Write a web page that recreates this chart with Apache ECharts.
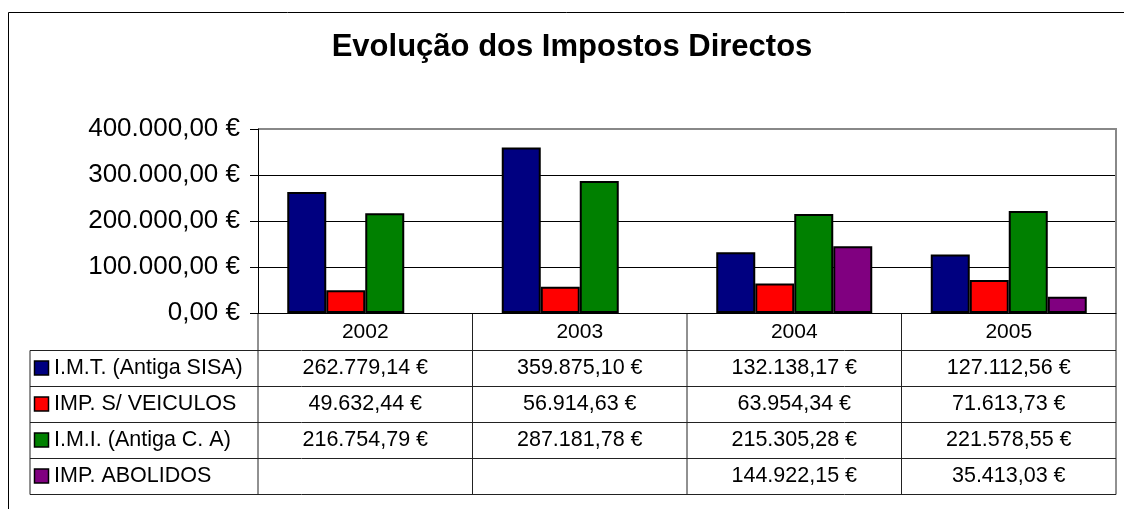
<!DOCTYPE html>
<html>
<head>
<meta charset="utf-8">
<script src="https://cdn.jsdelivr.net/npm/echarts@6/dist/echarts.min.js"></script>
<style>
html, body { margin: 0; padding: 0; background: #fff; }
#echarts { width: 1124px; height: 509px; }
</style>
</head>
<body>
<div id="echarts"></div>
<script>
// dados do gráfico
var titulo = 'Evolução dos Impostos Directos';
var anos = ['2002', '2003', '2004', '2005'];
var nomes = ['I.M.T. (Antiga SISA)', 'IMP. S/ VEICULOS', 'I.M.I. (Antiga C. A)', 'IMP. ABOLIDOS'];
var imt = [262779.14, 359875.10, 132138.17, 127112.56];
var veiculos = [49632.44, 56914.63, 63954.34, 71613.73];
var imi = [216754.79, 287181.78, 215305.28, 221578.55];
var abolidos = [null, null, 144922.15, 35413.03];
var cores = ['#000080', '#ff0000', '#008000', '#800080'];
var eixoMax = 400000;
var eixoPasso = 100000;

var fonte = '"Liberation Sans", Arial, sans-serif';

// 262779.14 -> "262.779,14 €"
function euros(v) {
    var p = v.toFixed(2).split('.');
    return p[0].replace(/\B(?=(\d{3})+(?!\d))/g, '.') + ',' + p[1] + ' €';
}

window.onload = function () {
    var series = [imt, veiculos, imi, abolidos];

    var option = {
        animation: false,
        backgroundColor: '#fff',
        grid: { left: 258, top: 129, width: 858, height: 184 },
        xAxis: {
            type: 'category',
            data: anos,
            axisLine: { lineStyle: { color: '#000', width: 1 } },
            axisTick: { show: false },
            axisLabel: { show: false }
        },
        yAxis: {
            type: 'value',
            min: 0, max: eixoMax, interval: eixoPasso,
            axisLine: { show: true, lineStyle: { color: '#000', width: 1 } },
            axisTick: { show: true, length: 8, lineStyle: { color: '#000' } },
            axisLabel: {
                margin: 18, color: '#000', fontSize: 26, fontFamily: fonte,
                formatter: function (v) { return euros(v); }
            },
            splitLine: { lineStyle: { color: '#000', width: 1 } }
        },
        series: series.map(function (d, i) {
            return {
                type: 'bar',
                name: nomes[i],
                data: d,
                barWidth: 39,
                barGap: '0%',
                itemStyle: { color: cores[i], borderColor: '#000', borderWidth: 2 }
            };
        })
    };

    var mychart = echarts.init(document.getElementById('echarts'));
    mychart.setOption(option);

    // tabela de dados por baixo do eixo
    var zero = mychart.convertToPixel({ yAxisIndex: 0 }, 0);
    var topo = mychart.convertToPixel({ yAxisIndex: 0 }, eixoMax);
    var centros = anos.map(function (a) { return mychart.convertToPixel({ xAxisIndex: 0 }, a); });
    var meia = (centros[1] - centros[0]) / 2;
    var esq = centros[0] - meia;
    var dir = centros[centros.length - 1] + meia;
    var cab = 37.5, linha = 36, xLeg = 30;
    var topos = [];
    for (var r = 0; r <= nomes.length; r++) topos.push(zero + cab + r * linha);
    var fundo = topos[topos.length - 1];

    var g = [];
    var traco = { stroke: '#222', lineWidth: 1 };

    // moldura exterior (cortada à direita e em baixo)
    g.push({ type: 'rect', shape: { x: 8.5, y: 12.5, width: 1300, height: 700 },
        style: { fill: null, stroke: '#000', lineWidth: 1 } });

    // contorno cinzento da área do gráfico (topo e direita)
    g.push({ type: 'polyline', shape: { points: [[esq, topo], [dir, topo], [dir, zero]] },
        style: { fill: null, stroke: '#888', lineWidth: 2 } });

    g.push({ type: 'text', x: 572, y: 47,
        style: { text: titulo, font: 'bold 31px ' + fonte, fill: '#000', align: 'center', verticalAlign: 'middle' } });

    // linhas horizontais
    topos.forEach(function (y) {
        g.push({ type: 'line', shape: { x1: xLeg, y1: y, x2: dir, y2: y }, style: traco });
    });
    // linhas verticais
    g.push({ type: 'line', shape: { x1: xLeg, y1: topos[0], x2: xLeg, y2: fundo }, style: traco });
    for (var k = 0; k <= anos.length; k++) {
        var xv = esq + k * meia * 2;
        g.push({ type: 'line', shape: { x1: xv, y1: zero, x2: xv, y2: fundo }, style: traco });
    }

    // anos
    anos.forEach(function (a, i) {
        g.push({ type: 'text', x: centros[i], y: zero + cab / 2,
            style: { text: a, font: '21px ' + fonte, fill: '#000', align: 'center', verticalAlign: 'middle' } });
    });

    // legenda e valores
    nomes.forEach(function (n, r) {
        var yc = topos[r] + linha / 2;
        g.push({ type: 'rect', shape: { x: 34.5, y: yc - 7.5, width: 14, height: 14 },
            style: { fill: cores[r], stroke: '#000', lineWidth: 1.5 } });
        g.push({ type: 'text', x: 54, y: yc,
            style: { text: n, font: '21.5px ' + fonte, fill: '#000', align: 'left', verticalAlign: 'middle' } });
        series[r].forEach(function (v, i) {
            if (v == null) return;
            g.push({ type: 'text', x: centros[i], y: yc,
                style: { text: euros(v), font: '21.5px ' + fonte, fill: '#000', align: 'center', verticalAlign: 'middle' } });
        });
    });

    mychart.setOption({ graphic: g });
};
</script>
</body>
</html>
